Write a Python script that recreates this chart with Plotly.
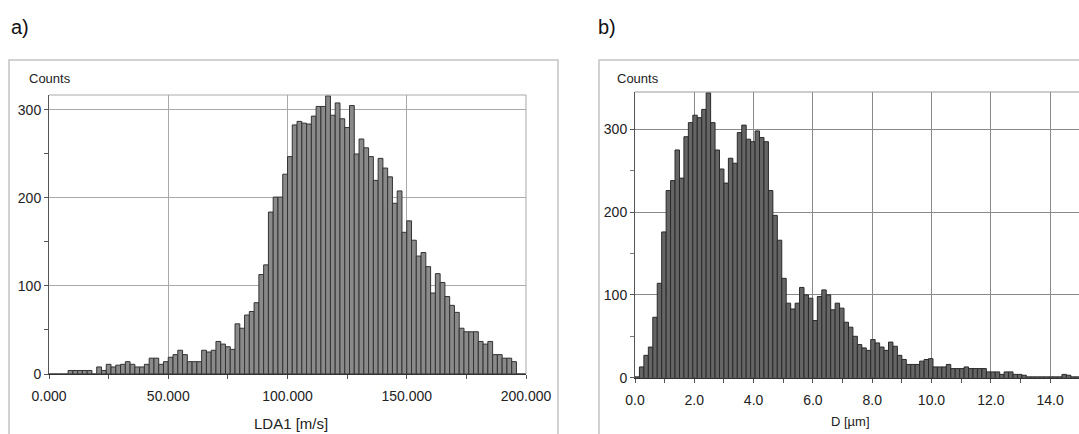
import numpy as np
import plotly.graph_objects as go

# ---------------- data ----------------
# a) LDA1 velocity histogram: 100 bins of 2 m/s from 0 to 200
lda_bin_width = 2.0
lda_counts = [
    0, 0, 0, 0, 4, 4, 4, 4, 4, 0,
    8, 4, 11, 8, 10, 11, 14, 11, 8, 8,
    11, 18, 18, 11, 14, 19, 22, 27, 22, 14,
    14, 14, 27, 25, 27, 37, 34, 31, 28, 57,
    52, 67, 71, 81, 113, 124, 184, 201, 201, 227,
    247, 283, 287, 285, 284, 293, 304, 304, 316, 294,
    308, 290, 280, 305, 250, 267, 257, 247, 220, 245,
    234, 224, 194, 208, 161, 174, 152, 134, 138, 122,
    92, 114, 104, 88, 78, 70, 52, 48, 48, 48,
    37, 34, 37, 22, 22, 18, 18, 14, 0, 0,
]
lda_xticks = [0, 50, 100, 150, 200]

# b) droplet diameter histogram: 100 bins of 0.15 um from 0 to 15
d_bin_width = 0.15
d_counts = [
    1, 13, 27, 37, 73, 114, 176, 226, 238, 275,
    241, 291, 308, 317, 314, 324, 344, 308, 275, 252,
    235, 265, 259, 296, 305, 288, 285, 298, 290, 285,
    226, 196, 166, 120, 90, 83, 90, 109, 100, 96,
    69, 98, 106, 100, 82, 90, 84, 67, 61, 50,
    40, 36, 33, 46, 42, 37, 33, 43, 38, 27,
    22, 16, 16, 16, 20, 22, 23, 13, 13, 13,
    16, 11, 11, 11, 13, 11, 11, 11, 11, 7,
    7, 7, 4, 7, 7, 4, 4, 3, 1, 1,
    1, 1, 1, 1, 1, 1, 4, 3, 1, 1,
]
d_xticks = [0, 2, 4, 6, 8, 10, 12, 14]
count_ticks = [0, 100, 200, 300]

# ---------------- figure ----------------
W, H = 1079, 434
FONT = "Liberation Sans"

lda_centers = (np.arange(len(lda_counts)) + 0.5) * lda_bin_width
d_centers = (np.arange(len(d_counts)) + 0.5) * d_bin_width

fig = go.Figure()
fig.add_trace(go.Bar(
    x=lda_centers, y=lda_counts, width=lda_bin_width,
    marker=dict(color="#8a8a8a", line=dict(color="#333333", width=1)),
    xaxis="x", yaxis="y", showlegend=False, hoverinfo="x+y",
))
fig.add_trace(go.Bar(
    x=d_centers, y=d_counts, width=d_bin_width,
    marker=dict(color="#656565", line=dict(color="#2a2a2a", width=1)),
    xaxis="x2", yaxis="y2", showlegend=False, hoverinfo="x+y",
))

def px_x(p):
    return p / W

def px_y(p):
    return (H - p) / H

tickfont = dict(family=FONT, size=14, color="#222222")

axis_common = dict(
    showline=True, zeroline=False, ticks="outside", ticklen=4,
    tickfont=tickfont, fixedrange=True, automargin=False,
)

fig.update_layout(
    width=W, height=H,
    margin=dict(l=0, r=0, t=0, b=0, autoexpand=False),
    paper_bgcolor="white", plot_bgcolor="white",
    font=dict(family=FONT, color="#222222"),
    bargap=0,
    xaxis=dict(
        domain=[px_x(49), px_x(526)], range=[0, 200], anchor="y",
        tickvals=lda_xticks, tickformat=".3f",
        showgrid=True, gridcolor="#a9a9a9", gridwidth=1,
        linecolor="#333333", linewidth=1, tickcolor="#555555",
        minor=dict(dtick=25, ticks="outside", ticklen=4, tickcolor="#555555", showgrid=False),
        ticklabelstandoff=5,
        **axis_common,
    ),
    yaxis=dict(
        domain=[px_y(374), px_y(95)], range=[0, 317], anchor="x",
        tickvals=count_ticks,
        showgrid=True, gridcolor="#a9a9a9", gridwidth=1,
        linecolor="#555555", linewidth=1, tickcolor="#555555",
        minor=dict(dtick=50, ticks="outside", ticklen=4, tickcolor="#555555", showgrid=False),
        **axis_common,
    ),
    xaxis2=dict(
        domain=[px_x(635), 1.0], range=[0, 14.975], anchor="y2",
        tickvals=d_xticks, tickformat=".1f",
        showgrid=True, gridcolor="#8a8a8a", gridwidth=1,
        linecolor="#333333", linewidth=1, tickcolor="#555555",
        minor=dict(dtick=1, ticks="outside", ticklen=4, tickcolor="#555555", showgrid=False),
        ticklabelstandoff=5,
        **axis_common,
    ),
    yaxis2=dict(
        domain=[px_y(377.7), px_y(92)], range=[0, 345], anchor="x2",
        tickvals=count_ticks,
        showgrid=True, gridcolor="#8a8a8a", gridwidth=1,
        linecolor="#555555", linewidth=1, tickcolor="#555555",
        minor=dict(dtick=50, ticks="outside", ticklen=4, tickcolor="#777777", showgrid=False),
        **axis_common,
    ),
)

# panel frames
frame = dict(color="#c4c4c4", width=1.5)
fig.add_shape(type="rect", xref="paper", yref="paper",
              x0=px_x(9), x1=px_x(558), y0=-0.1, y1=px_y(60), line=frame, layer="below")
fig.add_shape(type="rect", xref="paper", yref="paper",
              x0=px_x(599), x1=1.1, y0=-0.1, y1=px_y(60), line=frame, layer="below")

# top / right borders of plot areas
border_l = dict(color="#a9a9a9", width=1)
fig.add_shape(type="line", xref="x domain", yref="y domain", x0=0, x1=1, y0=1, y1=1, line=border_l)
fig.add_shape(type="line", xref="x domain", yref="y domain", x0=1, x1=1, y0=0, y1=1, line=border_l)
fig.add_shape(type="line", xref="x2 domain", yref="y2 domain", x0=0, x1=1, y0=1, y1=1,
              line=dict(color="#9a9a9a", width=1))

# texts
ann_font = dict(family=FONT, size=13, color="#222222")
annotations = [
    dict(text="a)", x=px_x(9), y=px_y(27), xanchor="left", yanchor="middle",
         font=dict(family=FONT, size=20, color="#111111")),
    dict(text="b)", x=px_x(596), y=px_y(27), xanchor="left", yanchor="middle",
         font=dict(family=FONT, size=20, color="#111111")),
    dict(text="Counts", x=px_x(27), y=px_y(78), xanchor="left", yanchor="middle", font=ann_font),
    dict(text="Counts", x=px_x(615), y=px_y(78), xanchor="left", yanchor="middle", font=ann_font),
    dict(text="LDA1 [m/s]", x=px_x(291), y=px_y(423), xanchor="center", yanchor="middle",
         font=dict(family=FONT, size=15, color="#222222")),
    dict(text="D [µm]", x=px_x(850), y=px_y(421), xanchor="center", yanchor="middle",
         font=dict(family=FONT, size=13, color="#222222")),
]
for a in annotations:
    a.update(xref="paper", yref="paper", showarrow=False)
fig.update_layout(annotations=annotations)

fig.write_html(
    "out.html",
    config={"displayModeBar": False, "staticPlot": True},
    post_script="document.body.style.margin='0px';document.body.style.overflow='hidden';",
)
